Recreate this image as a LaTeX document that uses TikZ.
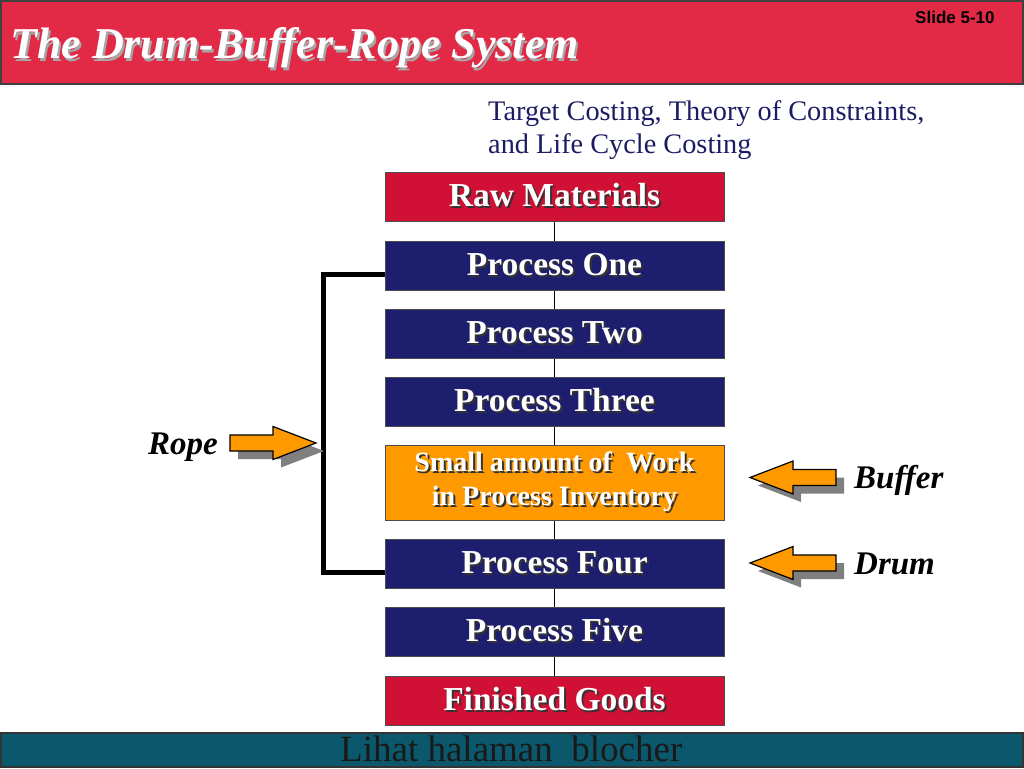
\documentclass[tikz,border=0pt]{standalone}
\usepackage{fontspec}
\setmainfont{Liberation Serif}
\newfontfamily\slidefont{Liberation Sans}

\definecolor{headred}{RGB}{226,42,70}
\definecolor{boxred}{RGB}{208,16,52}
\definecolor{boxnavy}{RGB}{30,30,110}
\definecolor{boxorange}{RGB}{255,153,0}
\definecolor{footteal}{RGB}{11,88,108}
\definecolor{subblue}{RGB}{28,28,100}

% text with a drop shadow behind it
\newcommand{\shadowtext}[2][black!80]{\makebox[0pt][l]{\kern2pt\raisebox{-2pt}{\textcolor{#1}{#2}}}#2}

\tikzset{
  stage/.style={draw=black!70, line width=1pt, minimum width=339pt, minimum height=49pt,
    inner sep=0pt, text=white, font=\fontsize{33.5}{38}\bfseries\selectfont},
  tag/.style={inner sep=0pt, anchor=base west, font=\fontsize{33}{38}\bfseries\itshape\selectfont}
}

\begin{document}
\begin{tikzpicture}[x=1pt, y=-1pt]
  \useasboundingbox (0,0) rectangle (1024,768);

  % header
  \filldraw[fill=headred, draw=black!75, line width=1.5pt] (1,1) rectangle (1023,84);
  \node[anchor=base west, inner sep=0pt, text=white, font=\fontsize{44}{50}\bfseries\itshape\selectfont]
    (title) at (10,59) {\shadowtext[gray!70]{The Drum-Buffer-Rope System}};
  \node[anchor=base west, inner sep=0pt, font=\slidefont\fontsize{17}{19}\bfseries\selectfont]
    (slide) at (915,24) {Slide 5-10};
  \node[anchor=north west, inner sep=0pt, align=left, text=subblue, font=\fontsize{28.3}{33}\selectfont]
    (sub) at (488,100) {Target Costing, Theory of Constraints,\\and Life Cycle Costing};

  % stages
  \node[stage, fill=boxred] (raw) at (554.5,196.5) {\shadowtext{Raw Materials}};
  \foreach \name/\y/\txt in {p1/265.5/One, p2/333.5/Two, p3/401.5/Three, p4/563.5/Four, p5/631.5/Five}
    \node[stage, fill=boxnavy] (\name) at (554.5,\y) {\shadowtext{Process \txt}};
  \node[stage, fill=boxorange, minimum height=75pt, align=center, font=\fontsize{28}{34}\bfseries\selectfont]
    (wip) at (554.5,483) {\shadowtext{Small amount of\ \ Work}\\\shadowtext{in Process Inventory}};
  \node[stage, fill=boxred] (fin) at (554.5,700.5) {\shadowtext{Finished Goods}};

  % links
  \foreach \a/\b in {raw/p1, p1/p2, p2/p3, p3/wip, wip/p4, p4/p5, p5/fin}
    \draw[thin] (\a.south) -- (\b.north);

  % rope
  \draw[line width=5pt] ([yshift=-9pt]p1.west) -- ++(-61,0) |- ([yshift=-9pt]p4.west);

  % block arrows with shadows
  \foreach \x/\y/\d in {230/443/1, 836/477.5/-1, 836/563/-1} {
    \fill[black!50, shift={(\x+8,\y+8)}, xscale=\d]
      (0,-8) -- (43,-8) -- (43,-16.5) -- (86,0) -- (43,16.5) -- (43,8) -- (0,8) -- cycle;
    \filldraw[fill=boxorange, draw=black, line width=1.2pt, shift={(\x,\y)}, xscale=\d]
      (0,-8) -- (43,-8) -- (43,-16.5) -- (86,0) -- (43,16.5) -- (43,8) -- (0,8) -- cycle;
  }

  % tags
  \node[tag] (rope) at (148,454) {Rope};
  \node[tag] (buffer) at (854,488) {Buffer};
  \node[tag] (drum) at (854,574) {Drum};

  % footer
  \filldraw[fill=footteal, draw=black!80, line width=1.5pt] (1,733) rectangle (1023,767);
  \node[anchor=base west, inner sep=0pt, text=black!90, font=\fontsize{37}{40}\selectfont]
    (foot) at (340,761) {Lihat halaman\ \ blocher};
\end{tikzpicture}
\end{document}
